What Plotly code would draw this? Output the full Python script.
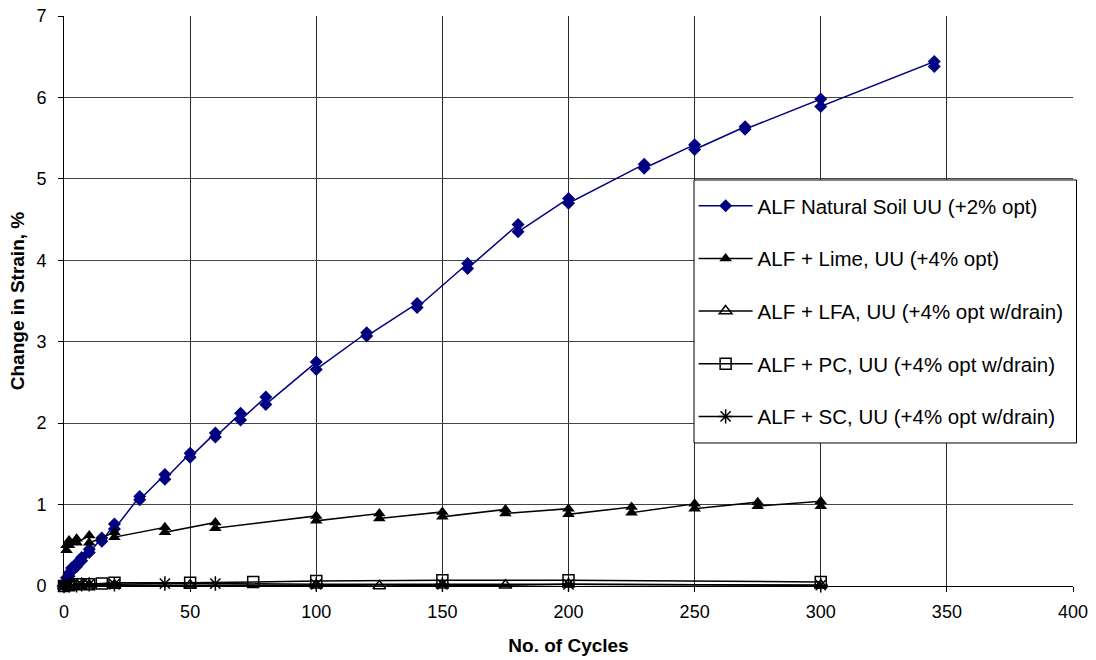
import plotly.graph_objects as go

# ---- data ----
nat_x = [0, 0, 1, 1, 2, 2, 3, 3, 5, 5, 7, 7, 10, 10, 15, 15, 20, 20, 30, 30, 40, 40,
         50, 50, 60, 60, 70, 70, 80, 80, 100, 100, 120, 120, 140, 140, 160, 160,
         180, 180, 200, 200, 230, 230, 250, 250, 270, 270, 300, 300, 345, 345]
nat_y = [0.02, 0.0, 0.10, 0.06, 0.16, 0.12, 0.22, 0.18, 0.28, 0.24, 0.35, 0.31,
         0.45, 0.41, 0.59, 0.55, 0.76, 0.70, 1.10, 1.06, 1.37, 1.31, 1.63, 1.58,
         1.88, 1.83, 2.12, 2.04, 2.32, 2.23, 2.75, 2.66, 3.11, 3.07, 3.47, 3.42,
         3.96, 3.90, 4.44, 4.35, 4.76, 4.70, 5.18, 5.13, 5.42, 5.36, 5.64, 5.61,
         5.98, 5.89, 6.44, 6.38]

lime_x = [1, 1, 2, 2, 5, 5, 10, 10, 20, 20, 40, 40, 60, 60, 100, 100, 125, 125,
          150, 150, 175, 175, 200, 200, 225, 225, 250, 250, 275, 275, 300, 300]
lime_y = [0.50, 0.44, 0.56, 0.50, 0.58, 0.53, 0.62, 0.53, 0.66, 0.60, 0.72, 0.66,
          0.78, 0.71, 0.86, 0.80, 0.89, 0.83, 0.91, 0.85, 0.94, 0.89, 0.95, 0.88,
          0.97, 0.90, 1.01, 0.95, 1.03, 0.98, 1.04, 0.98]

lfa_x = [0, 2, 5, 10, 20, 50, 100, 125, 150, 175, 200, 300]
lfa_y = [0.0, 0.0, 0.01, 0.01, 0.01, 0.01, 0.01, 0.0, 0.01, 0.01, 0.02, 0.01]

pc_x = [0, 2, 5, 10, 15, 20, 50, 75, 100, 150, 200, 300]
pc_y = [0.0, 0.01, 0.02, 0.02, 0.03, 0.04, 0.04, 0.05, 0.06, 0.07, 0.07, 0.05]

sc_x = [0, 2, 5, 7, 10, 20, 40, 60, 100, 150, 200, 300]
sc_y = [0.0, 0.01, 0.01, 0.02, 0.02, 0.02, 0.03, 0.03, 0.02, 0.02, 0.02, 0.01]

names = ["ALF Natural Soil UU (+2% opt)",
         "ALF + Lime, UU (+4% opt)",
         "ALF + LFA, UU (+4% opt w/drain)",
         "ALF + PC, UU (+4% opt w/drain)",
         "ALF + SC, UU (+4% opt w/drain)"]

x_ticks = [0, 50, 100, 150, 200, 250, 300, 350, 400]
y_ticks = [0, 1, 2, 3, 4, 5, 6, 7]

fig = go.Figure()
fig.add_trace(go.Scatter(x=nat_x, y=nat_y, mode="lines+markers", name=names[0],
                         legendgroup="a", cliponaxis=False,
                         line=dict(color="#000080", width=1.5),
                         marker=dict(symbol="diamond", size=10, color="#000080")))
fig.add_trace(go.Scatter(x=lime_x, y=lime_y, mode="lines+markers", name=names[1],
                         legendgroup="b", cliponaxis=False,
                         line=dict(color="black", width=1.5),
                         marker=dict(symbol="triangle-up", size=11, color="black")))
fig.add_trace(go.Scatter(x=lfa_x, y=lfa_y, mode="lines+markers", name=names[2],
                         legendgroup="c", cliponaxis=False,
                         line=dict(color="black", width=1.5),
                         marker=dict(symbol="triangle-up-open", size=11, color="black",
                                     line=dict(width=1.5))))
fig.add_trace(go.Scatter(x=pc_x, y=pc_y, mode="lines+markers", name=names[3],
                         legendgroup="d", cliponaxis=False,
                         line=dict(color="black", width=1.5),
                         marker=dict(symbol="square-open", size=11, color="black",
                                     line=dict(width=1.5))))
fig.add_trace(go.Scatter(x=sc_x, y=sc_y, mode="lines+markers", name=names[4],
                         legendgroup="e", cliponaxis=False,
                         line=dict(color="black", width=1.5),
                         marker=dict(symbol="asterisk-open", size=12, color="black",
                                     line=dict(width=1.5))))

# legend frame (drawn as a layout shape so it can have Excel-like padding)
fig.add_shape(type="rect", xref="paper", yref="paper",
              x0=0.6244, x1=1.0035, y0=0.2509, y1=0.7123,
              line=dict(color="black", width=1), fillcolor="white", layer="above")

fig.update_layout(
    width=1096, height=660,
    margin=dict(l=64, r=23, t=16, b=74),
    paper_bgcolor="white", plot_bgcolor="white",
    font=dict(family="Liberation Sans, Arial, sans-serif", size=18, color="black"),
    showlegend=True,
    legend=dict(x=0.624, y=0.7018, xanchor="left", yanchor="top",
                borderwidth=0, bgcolor="rgba(0,0,0,0)",
                font=dict(size=20.5), traceorder="grouped", tracegroupgap=23,
                itemwidth=54),
    xaxis=dict(range=[0, 400], tickvals=x_ticks, ticktext=[str(v) for v in x_ticks],
               showgrid=True, gridcolor="#2a2a2a", gridwidth=1,
               showline=True, linecolor="black", linewidth=1, mirror=False,
               ticks="outside", ticklen=5, tickcolor="black",
               ticklabelstandoff=4, tickfont=dict(size=18),
               zeroline=False, automargin=False,
               title=dict(text="<b>No. of Cycles</b>", font=dict(size=19), standoff=18)),
    yaxis=dict(range=[0, 7], tickvals=y_ticks, ticktext=[str(v) for v in y_ticks],
               showgrid=True, gridcolor="#444444", gridwidth=1,
               showline=True, linecolor="black", linewidth=1,
               ticks="outside", ticklen=5, tickcolor="black",
               ticklabelstandoff=8, tickfont=dict(size=18),
               zeroline=False, automargin=False,
               title=dict(text="<b>Change in Strain, %</b>", font=dict(size=19), standoff=6)),
)

fig.write_html("out.html")
